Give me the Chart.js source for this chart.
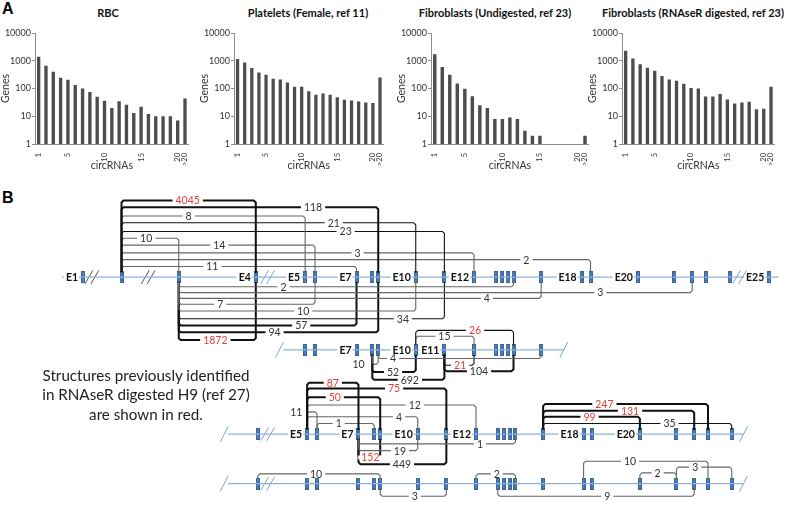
<!DOCTYPE html>
<html>
<head>
<meta charset="utf-8">
<script src="https://cdn.jsdelivr.net/npm/chart.js@4.4.1/dist/chart.umd.min.js"></script>
<style>
  body { margin: 0; background: #fff; }
  #page { position: relative; width: 793px; height: 507px; overflow: hidden; font-family: Lato, sans-serif; }
  #page canvas { position: absolute; top: 0; }
  .letter { position: absolute; font: bold 16px/16px "Liberation Sans", Arial, sans-serif; color: #000; }
  .ptitle { position: absolute; top: 6px; transform: translateX(-50%); white-space: nowrap;
            font: bold 11px/14px Lato, sans-serif; color: #111; }
  #note { position: absolute; left: 16px; width: 260px; top: 366px; text-align: center;
          font: 15.2px/19.3px Lato, sans-serif; color: #222; }
</style>
</head>
<body>
<div id="page">
  <div class="letter" style="left:2px;top:1px">A</div>
  <div class="letter" style="left:2px;top:190px">B</div>

  <div class="ptitle" style="left:108px">RBC</div>
  <div class="ptitle" style="left:308px">Platelets (Female, ref 11)</div>
  <div class="ptitle" style="left:495px">Fibroblasts (Undigested, ref 23)</div>
  <div class="ptitle" style="left:693px">Fibroblasts (RNAseR digested, ref 23)</div>

  <canvas id="rbcChart" width="196" height="172" style="left:-1px"></canvas>
  <canvas id="plateletChart" width="192" height="172" style="left:198px"></canvas>
  <canvas id="fibroUndigChart" width="200" height="172" style="left:395px"></canvas>
  <canvas id="fibroRnaseChart" width="195" height="172" style="left:586px"></canvas>

  <canvas id="structureChart" width="793" height="327" style="top:180px;left:0"></canvas>

  <div id="note">Structures previously identified<br>in RNAseR digested H9 (ref 27)<br>are shown in red.</div>
</div>

<script>
// ---------- Panel A data ----------
const categories = ['1', '2', '3', '4', '5', '6', '7', '8', '9', '10', '11', '12', '13', '14', '15', '16', '17', '18', '19', '20', '>20'];
const shownXTicks = ['1', '5', '10', '15', '20', '>20'];
const yTicks = [1, 10, 100, 1000, 10000];

const rbcGenes = [1400, 665, 400, 242, 205, 135, 100, 75, 50, 36, 20, 35, 26, 13, 22, 12, 10, 10, 10, 7, 44];
const plateletGenes = [1150, 870, 550, 375, 315, 225, 210, 165, 115, 115, 80, 60, 66, 60, 48, 39, 37, 34, 31, 30, 250];
const fibroUndigestedGenes = [1730, 600, 315, 152, 97, 53, 25, 20, 8, 8, 9, 8, 3, 2, 2, null, null, null, null, null, 2];
const fibroRnaseRGenes = [2280, 1200, 750, 560, 440, 280, 210, 190, 148, 105, 100, 52, 52, 64, 40, 29, 31, 33, 18, 18.6, 115];

// ---------- Panel B data ----------
const exonNames = ['E1', 'E2', 'E3', 'E4', 'E5', 'E6', 'E7', 'E8', 'E9', 'E10', 'E11', 'E12', 'E13',
                   'E14', 'E15', 'E16', 'E17', 'E18', 'E19', 'E20', 'E21', 'E22', 'E23', 'E24', 'E25'];
// exon positions along the gene (diagram units)
const exonPos = [79, 118, 176, 254, 304, 314, 356, 372, 378, 416, 445, 475, 497,
                 503, 509, 515, 543, 584, 593, 641, 678, 696, 710, 734, 774];
// four drawn copies of the gene
const rowBase = [275, 350, 437, 488];
const rowShift = [0, 0, 2, 2];
const rowExons = [[1, 25], [5, 17], [4, 24], [4, 24]];
const rowSpan = [[58, 783], [282, 566], [226, 748], [226, 748]];
const rowLabels = [
  ['E1', 'E4', 'E5', 'E7', 'E10', 'E12', 'E18', 'E20', 'E25'],
  ['E7', 'E10', 'E11'],
  ['E5', 'E7', 'E10', 'E12', 'E18', 'E20'],
  []
];
// [row, x, number of slashes, dark]
const rowBreaks = [
  [0, 88, 2, 1], [0, 145, 2, 1], [0, 266, 2, 0], [0, 744, 2, 0],
  [1, 278, 1, 0], [1, 566, 1, 0],
  [2, 222, 1, 0], [2, 266, 2, 0], [2, 748, 1, 0],
  [3, 222, 1, 0], [3, 266, 2, 0], [3, 748, 1, 0]
];
// backsplice junctions: [row, from exon, to exon, track, circRNA count, label position, seen in H9]
const junctions = [
  [0, 2, 4, 196, 4045, 185, 1],
  [0, 2, 9, 203, 118, 312, 0],
  [0, 2, 5, 212, 8, 186, 0],
  [0, 2, 10, 219, 21, 333, 0],
  [0, 2, 11, 228, 23, 345, 0],
  [0, 2, 3, 235, 10, 143, 0],
  [0, 2, 6, 242, 14, 217, 0],
  [0, 2, 12, 250, 3, 357, 0],
  [0, 2, 19, 257, 2, 528, 0],
  [0, 2, 7, 264, 11, 210, 0],
  [0, 3, 16, 285, 2, 282, 0],
  [0, 3, 22, 291, 3, 603, 0],
  [0, 3, 17, 297, 4, 488, 0],
  [0, 3, 6, 303, 7, 218, 0],
  [0, 3, 10, 310, 10, 302, 0],
  [0, 3, 11, 318, 34, 403, 0],
  [0, 3, 7, 325, 57, 300, 0],
  [0, 3, 9, 332, 94, 273, 0],
  [0, 3, 4, 340, 1872, 213, 1],
  [1, 10, 16, 330, 26, 476, 1],
  [1, 10, 12, 336, 15, 445, 0],
  [1, 9, 17, 359, 4, 393, 0],
  [1, 8, 9, 365, 10, 358, 0],
  [1, 11, 12, 366, 21, 461, 1],
  [1, 11, 16, 372, 104, 480, 0],
  [1, 8, 10, 373, 52, 393, 0],
  [1, 8, 11, 381, 692, 410, 0],
  [2, 5, 7, 384, 87, 332, 1],
  [2, 5, 11, 390, 75, 394, 1],
  [2, 5, 9, 399, 50, 334, 1],
  [2, 5, 12, 407, 12, 415, 0],
  [2, 5, 6, 414, 11, 295, 0],
  [2, 5, 10, 419, 4, 399, 0],
  [2, 6, 8, 426, 1, 338, 0],
  [2, 17, 23, 406, 247, 607, 1],
  [2, 17, 22, 413, 131, 633, 1],
  [2, 17, 20, 419, 99, 592, 1],
  [2, 17, 24, 426, 35, 673, 0],
  [2, 7, 16, 447, 1, 481, 0],
  [2, 7, 10, 454, 19, 400, 0],
  [2, 7, 9, 461, 152, 370, 1],
  [2, 7, 11, 468, 449, 402, 0],
  [3, 4, 9, 478, 10, 315, 0],
  [3, 12, 16, 478, 2, 498, 0],
  [3, 18, 23, 465, 10, 633, 0],
  [3, 21, 24, 471, 3, 699, 0],
  [3, 20, 21, 477, 2, 661, 0],
  [3, 9, 11, 501, 3, 415, 0],
  [3, 13, 22, 501, 9, 610, 0]
];

// ---------- Panel A: genes per number of circRNAs ----------
function drawGenesChart(canvasId, values) {
  const ctx = document.getElementById(canvasId).getContext('2d');
  const axisColor = '#8c8c8c';
  new Chart(ctx, {
    type: 'bar',
    data: {
      labels: categories,
      datasets: [{
        data: values,
        backgroundColor: '#4d4d4d',
        borderWidth: 0,
        barPercentage: 0.46,
        categoryPercentage: 1
      }]
    },
    options: {
      responsive: false,
      animation: false,
      events: [],
      layout: { padding: { top: 33, right: 0, bottom: 0, left: 0 } },
      plugins: { legend: { display: false }, tooltip: { enabled: false } },
      scales: {
        x: {
          grid: { display: false },
          border: { display: true, color: axisColor },
          ticks: {
            autoSkip: false, maxRotation: 90, minRotation: 90, padding: 1,
            color: '#333', font: { family: 'Lato', size: 7.5 },
            callback: (v, i) => shownXTicks.includes(categories[i]) ? categories[i] : ''
          },
          title: { display: true, text: 'circRNAs', color: '#333', padding: 0, font: { family: 'Lato', size: 10.5 } },
          afterFit: s => { s.height = 28; }
        },
        y: {
          type: 'logarithmic',
          min: 1,
          max: 10000,
          grid: { drawOnChartArea: false, drawTicks: true, tickLength: 3, color: axisColor },
          border: { display: true, color: axisColor },
          ticks: { padding: 1, color: '#333', font: { family: 'Lato', size: 9 }, callback: v => String(v) },
          afterBuildTicks: s => { s.ticks = yTicks.map(v => ({ value: v })); },
          title: { display: true, text: 'Genes', color: '#333', padding: 0, font: { family: 'Lato', size: 10.5 } },
          afterFit: s => { s.width = 36; }
        }
      }
    }
  });
}

drawGenesChart('rbcChart', rbcGenes);
drawGenesChart('plateletChart', plateletGenes);
drawGenesChart('fibroUndigChart', fibroUndigestedGenes);
drawGenesChart('fibroRnaseChart', fibroRnaseRGenes);

// ---------- Panel B: circRNA structures ----------
const exonX = (row, n) => exonPos[n - 1] + rowShift[row];

// exon glyph used as point style
const exonImg = document.createElement('canvas');
exonImg.width = 4;
exonImg.height = 12;
(function () {
  const c = exonImg.getContext('2d');
  c.fillStyle = '#4f81bd';
  c.fillRect(0, 0, 4, 12);
  c.strokeStyle = '#3a6394';
  c.lineWidth = 1;
  c.strokeRect(0.5, 0.5, 3, 11);
})();

const lineSet = (pts, color, width) => ({
  data: pts, showLine: true, borderColor: color, borderWidth: width,
  pointRadius: 0, fill: false, borderJoinStyle: 'round', borderCapStyle: 'butt'
});

const structureSets = [];

// gene backbones
rowSpan.forEach((span, r) => {
  structureSets.push(lineSet([{ x: span[0], y: rowBase[r] }, { x: span[1], y: rowBase[r] }], '#8eb0dc', 1.2));
});

// intron breaks (slashes)
rowBreaks.forEach(([r, x, n, dark]) => {
  const color = dark ? '#555' : '#7fa3d0';
  const offs = n === 2 ? [-3, 3] : [0];
  const h = n === 2 ? 7 : 8;
  offs.forEach(o => {
    structureSets.push(lineSet([{ x: x + o - 4, y: rowBase[r] + h }, { x: x + o + 4, y: rowBase[r] - h }], color, 1));
  });
});

// junction brackets
junctions.forEach(([r, a, b, yLine, count]) => {
  const base = rowBase[r];
  const dir = yLine < base ? -1 : 1;
  const edge = base + dir * 5;
  const x1 = exonX(r, a), x2 = exonX(r, b);
  const c = 2;
  const pts = [
    { x: x1, y: edge },
    { x: x1, y: yLine - dir * c },
    { x: x1 + c, y: yLine },
    { x: x2 - c, y: yLine },
    { x: x2, y: yLine - dir * c },
    { x: x2, y: edge }
  ];
  const width = count >= 40 ? 2 : 1.1;
  const color = count >= 20 ? '#111' : '#666';
  structureSets.push(lineSet(pts, color, width));
});

// exons
const exonPoints = [];
rowExons.forEach(([first, last], r) => {
  for (let n = first; n <= last; n++) exonPoints.push({ x: exonX(r, n), y: rowBase[r] });
});
structureSets.push({ data: exonPoints, pointStyle: exonImg, pointRadius: 3, showLine: false });

// count labels and exon names
const structureLabels = {
  id: 'structureLabels',
  afterDatasetsDraw(chart) {
    const ctx = chart.ctx;
    const xs = chart.scales.x, ys = chart.scales.y;
    ctx.save();
    ctx.textAlign = 'center';
    ctx.textBaseline = 'middle';
    ctx.font = '10.5px Lato';
    junctions.forEach(([r, a, b, yLine, count, labelX, red]) => {
      const px = xs.getPixelForValue(labelX);
      const py = ys.getPixelForValue(yLine);
      const txt = String(count);
      const w = ctx.measureText(txt).width;
      ctx.fillStyle = '#fff';
      ctx.fillRect(px - w / 2 - 3, py - 2, w + 6, 4);
      ctx.fillStyle = red ? '#e5403a' : '#333';
      ctx.fillText(txt, px, py + 0.5);
    });
    ctx.font = 'bold 10.5px Lato';
    ctx.textAlign = 'right';
    rowLabels.forEach((names, r) => {
      names.forEach(name => {
        const n = exonNames.indexOf(name) + 1;
        const px = xs.getPixelForValue(exonX(r, n)) - 5;
        const py = ys.getPixelForValue(rowBase[r]);
        const w = ctx.measureText(name).width;
        ctx.fillStyle = '#fff';
        ctx.fillRect(px - w - 2, py - 2, w + 3, 4);
        ctx.fillStyle = '#111';
        ctx.fillText(name, px, py + 0.5);
      });
    });
    ctx.restore();
  }
};

new Chart(document.getElementById('structureChart').getContext('2d'), {
  type: 'scatter',
  data: { datasets: structureSets },
  options: {
    responsive: false,
    animation: false,
    events: [],
    layout: { padding: 0 },
    plugins: { legend: { display: false }, tooltip: { enabled: false } },
    scales: {
      x: { type: 'linear', min: 0, max: 793, display: false },
      y: { type: 'linear', min: 180, max: 507, reverse: true, display: false }
    }
  },
  plugins: [structureLabels]
});
</script>
</body>
</html>
